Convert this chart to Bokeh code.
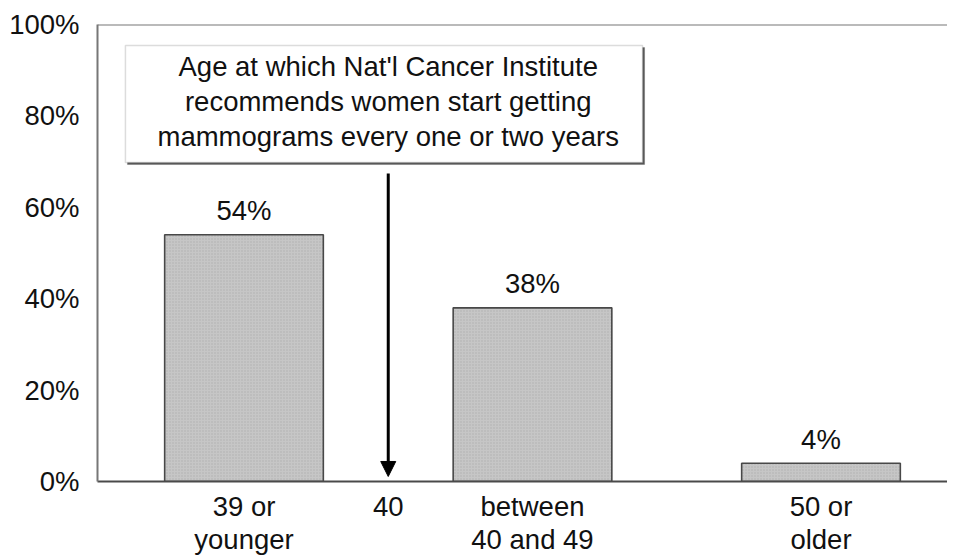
from bokeh.plotting import figure
from bokeh.models import Range1d, FixedTicker, Span, BoxAnnotation, Label, Arrow, NormalHead, ColumnDataSource
from bokeh.embed import file_html
from bokeh.resources import INLINE
from bokeh.core.properties import value

# ---- data ----
categories = ["39 or\nyounger", "40", "between\n40 and 49", "", "50 or\nolder"]
percentages = [54, None, 38, None, 4]
y_ticks = [0, 20, 40, 60, 80, 100]
y_tick_labels = ["0%", "20%", "40%", "60%", "80%", "100%"]
note_text = "Age at which Nat'l Cancer Institute\nrecommends women start getting\nmammograms every one or two years"
marker_category = "40"

FONT = "Liberation Sans"
TEXT_COLOR = "#111111"
FS = "27.5px"

slot = {c: i + 1 for i, c in enumerate(categories)}

FRAME_H = 457
LABEL_GAP = 24 * 100 / FRAME_H  # value-label centre sits 24px above the bar top

p = figure(frame_width=850, frame_height=FRAME_H,
           x_range=Range1d(-0.0156, 5.877), y_range=Range1d(0, 100),
           output_backend="svg", toolbar_location=None,
           min_border_left=97, min_border_right=0,
           min_border_top=24, min_border_bottom=69)

p.outline_line_color = None
p.xgrid.grid_line_color = None
p.ygrid.grid_line_color = None

# bars
bx = [slot[c] for c, v in zip(categories, percentages) if v is not None]
bv = [v for v in percentages if v is not None]
src = ColumnDataSource(dict(x=bx, top=bv, ly=[v + LABEL_GAP for v in bv],
                            lab=[f"{v}%" for v in bv]))
p.vbar(x="x", top="top", bottom=0, width=1.1, source=src,
       fill_color="#c6c6c6", line_color="#484848", line_width=1.6,
       hatch_pattern="dot", hatch_color="#9c9c9c", hatch_scale=3,
       hatch_alpha=0.6, hatch_weight=1)
p.text(x="x", y="ly", text="lab", source=src, text_align="center",
       text_baseline="middle",
       text_font=value(FONT), text_font_size=FS, text_color=TEXT_COLOR)

# y axis
p.yaxis.ticker = FixedTicker(ticks=y_ticks)
p.yaxis.major_label_overrides = {t: l for t, l in zip(y_ticks, y_tick_labels)}
p.yaxis.major_tick_line_color = None
p.yaxis.major_tick_out = 0
p.yaxis.major_tick_in = 0
p.yaxis.minor_tick_line_color = None
p.yaxis.minor_tick_out = 0
p.yaxis.axis_line_color = "#777777"
p.yaxis.axis_line_width = 2
p.yaxis.major_label_standoff = 18
p.yaxis.major_label_text_font = FONT
p.yaxis.major_label_text_font_size = FS
p.yaxis.major_label_text_color = TEXT_COLOR

# x axis
p.xaxis.ticker = FixedTicker(ticks=[slot[c] for c in categories if c])
p.xaxis.major_label_overrides = {slot[c]: c for c in categories if c}
p.xaxis.major_tick_line_color = None
p.xaxis.major_tick_out = 0
p.xaxis.major_tick_in = 0
p.xaxis.minor_tick_line_color = None
p.xaxis.minor_tick_out = 0
p.xaxis.axis_line_color = "#4a4a4a"
p.xaxis.axis_line_width = 2
p.xaxis.major_label_standoff = 9
p.xaxis.major_label_text_font = FONT
p.xaxis.major_label_text_font_size = FS
p.xaxis.major_label_text_color = TEXT_COLOR
p.xaxis.major_label_text_line_height = 1.07

# top frame line
p.add_layout(Span(location=100, dimension="width", line_color="#777777", line_width=2))

# annotation box (with a slight shadow) + text
p.add_layout(BoxAnnotation(left=0.192, right=3.777, top=94.96, bottom=69.36,
                           fill_color="#555555", fill_alpha=1.0,
                           line_color="#555555", line_width=1))
p.add_layout(BoxAnnotation(left=0.178, right=3.763, top=95.4, bottom=69.8,
                           fill_color="white", fill_alpha=1.0,
                           line_color="#8c8c8c", line_width=1.5))
p.add_layout(Label(x=slot[marker_category], y=83.2, text=note_text,
                   text_align="center", text_baseline="middle",
                   text_font=FONT, text_font_size=FS, text_color=TEXT_COLOR,
                   text_line_height=1.13))

# arrow
p.add_layout(Arrow(x_start=slot[marker_category], y_start=67.4,
                   x_end=slot[marker_category], y_end=1.1,
                   line_width=3, line_color="black",
                   end=NormalHead(size=15, fill_color="black", line_color="black")))

open("out.html", "w").write(file_html(p, INLINE))
